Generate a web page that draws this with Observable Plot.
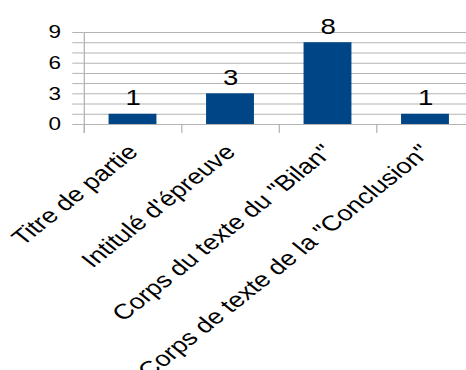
<!DOCTYPE html>
<html>
<head>
<meta charset="utf-8">
<script src="https://cdn.jsdelivr.net/npm/d3@7"></script>
<script src="https://cdn.jsdelivr.net/npm/@observablehq/plot@0.6"></script>
<style>
  body { margin: 0; background: #fff; overflow: hidden; }
  #chart svg { display: block; transform: scaleX(1.25); transform-origin: 0 0; }
</style>
</head>
<body>
<div id="chart"></div>
<script>
const categories = ["Titre de partie", "Intitulé d'épreuve", "Corps du texte du \"Bilan\"", "Corps de texte de la \"Conclusion\""];
const counts = [1, 3, 8, 1];
const yTicks = [0, 1, 2, 3, 4, 5, 6, 7, 8, 9];
const yLabels = [0, 3, 6, 9];

const data = categories.map((c, i) => ({category: c, count: counts[i]}));

// The chart is laid out narrow and widened by a horizontal stretch (see CSS).
const stretch = 1.25;
const W = 466 / stretch, H = 370;
const xLeft = 83.5 / stretch, xRight = 474 / stretch;   // plot area runs past the right edge
const step = (xRight - xLeft) / categories.length;
const barWidth = 48 / stretch;
const grid = "#b3b3b3";

const chart = Plot.plot({
  width: W,
  height: H,
  marginLeft: xLeft,
  marginRight: 0,
  marginTop: 32,
  marginBottom: 246,
  style: {fontFamily: "Liberation Sans, Arial, sans-serif", fontSize: "18px", color: "#000", overflow: "visible"},
  x: {domain: categories, range: [xLeft, xRight], padding: 0, axis: null},
  y: {domain: [0, 9], axis: null},
  marks: [
    Plot.gridY(yTicks, {stroke: grid, strokeOpacity: 1, strokeWidth: 1}),
    Plot.axisY({ticks: yTicks, tickSize: 9, tickPadding: 9.5, anchor: "left", stroke: grid, strokeOpacity: 1,
      tickFormat: d => yLabels.includes(d) ? d : "", fontSize: 18, fill: "#000", label: null}),
    // vertical axis line
    Plot.ruleX([categories[0]], {x: d => d, dx: -step / 2, y1: 9, y2: -0.88, stroke: grid}),
    // category boundary ticks below the baseline
    Plot.ruleX(categories, {x: d => d, dx: -step / 2, y1: 0, y2: -0.88, stroke: grid}),
    Plot.barY(data, {x: "category", y: "count", fill: "#004586",
      insetLeft: (step - barWidth) / 2, insetRight: (step - barWidth) / 2}),
    Plot.text(data, {x: "category", y: "count", text: d => String(d.count), lineAnchor: "bottom", dy: -9, fontSize: 22, fill: "#000"}),
    // rotated category labels
    Plot.text(data, {x: "category", y: 0, text: "category", rotate: -45, textAnchor: "end", lineAnchor: "middle",
      dx: 0, dy: 24, fontSize: 21.5, fill: "#000"})
  ]
});

document.getElementById("chart").append(chart);
</script>
</body>
</html>
